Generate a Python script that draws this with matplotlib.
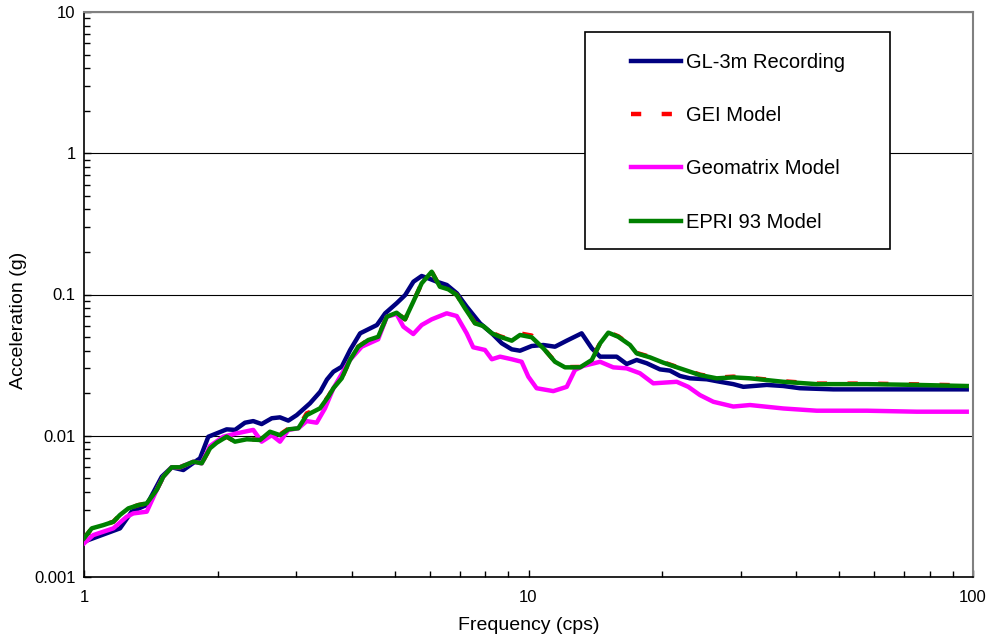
import matplotlib.pyplot as plt
from matplotlib import ticker
from matplotlib.patches import Rectangle

# ======= data =======
FREQ_REC = [1.0, 1.205, 1.28, 1.384, 1.496, 1.575, 1.673, 1.777, 1.824, 1.904,
            2.094, 2.186, 2.302, 2.403, 2.51, 2.645, 2.76, 2.882, 3.01, 3.224,
            3.40, 3.52, 3.64, 3.80, 3.97, 4.18, 4.56, 4.76, 5.05, 5.28,
            5.51, 5.75, 5.95, 6.22, 6.55, 6.90, 7.26, 7.78, 8.27, 8.71,
            9.17, 9.57, 10.17, 10.8, 11.47, 12.19, 13.17, 13.88, 14.49, 15.79,
            16.63, 17.51, 18.45, 19.76, 20.81, 21.92, 23.09, 25.18, 26.97, 28.89,
            30.43, 34.36, 37.43, 40.8, 48.5, 68.5, 96.8]
ACC_REC = [0.00178, 0.00221, 0.0029, 0.00324, 0.00513, 0.00598, 0.00572, 0.00655, 0.00692, 0.00984,
           0.0111, 0.0110, 0.01237, 0.0127, 0.0121, 0.0133, 0.0135, 0.0128, 0.0140, 0.01697,
           0.0205, 0.0250, 0.0284, 0.0308, 0.0405, 0.0531, 0.0608, 0.0736, 0.0867, 0.0992,
           0.1232, 0.1352, 0.1302, 0.1232, 0.1168, 0.102, 0.082, 0.0625, 0.0531, 0.0451,
           0.0409, 0.0400, 0.0432, 0.0439, 0.0427, 0.0471, 0.0531, 0.0416, 0.0363, 0.0363,
           0.0322, 0.0344, 0.0326, 0.0295, 0.0289, 0.0265, 0.0255, 0.0251, 0.0241, 0.0232,
           0.0222, 0.0229, 0.0225, 0.0217, 0.0213, 0.0213, 0.0213]

FREQ_EPRI = [1.0, 1.041, 1.105, 1.164, 1.205, 1.258, 1.325, 1.384, 1.457, 1.508,
             1.575, 1.644, 1.762, 1.840, 1.921, 1.989, 2.094, 2.186, 2.323, 2.489,
             2.62, 2.76, 2.882, 3.035, 3.17, 3.396, 3.545, 3.64, 3.80, 3.966,
             4.14, 4.36, 4.59, 4.80, 5.05, 5.275, 5.506, 5.75, 6.056, 6.32,
             6.60, 6.895, 7.195, 7.58, 7.91, 8.27, 8.63, 9.17, 9.57, 10.17,
             10.8, 11.47, 12.08, 13.06, 13.88, 14.49, 15.12, 15.92, 16.92, 17.51,
             18.76, 20.11, 21.92, 24.31, 26.51, 28.89, 31.5, 37.43, 44.5, 57.7,
             74.7, 96.8]
ACC_EPRI = [0.00188, 0.00221, 0.00233, 0.00246, 0.00275, 0.00306, 0.00323, 0.00332, 0.00413, 0.00513,
            0.00598, 0.00598, 0.00655, 0.00638, 0.00815, 0.00893, 0.00985, 0.00908, 0.00944, 0.00933,
            0.01068, 0.0101, 0.0111, 0.0113, 0.0140, 0.01564, 0.0189, 0.0217, 0.0255, 0.0344,
            0.0427, 0.0476, 0.0502, 0.0696, 0.0743, 0.0667, 0.0889, 0.120, 0.145, 0.1135,
            0.1088, 0.0992, 0.0799, 0.0625, 0.0598, 0.0531, 0.0502, 0.0471, 0.0517, 0.0498,
            0.0416, 0.0334, 0.0305, 0.0305, 0.0344, 0.0451, 0.0537, 0.0502, 0.0439, 0.0383,
            0.0359, 0.0329, 0.0300, 0.0269, 0.0255, 0.0259, 0.0255, 0.0241, 0.0232, 0.0232,
            0.0229, 0.0225]

FREQ_GEI = FREQ_EPRI
ACC_GEI = [0.00188, 0.00221, 0.00233, 0.00246, 0.00275, 0.00306, 0.00323, 0.00332, 0.00413, 0.00513,
           0.00598, 0.00598, 0.00655, 0.00638, 0.00815, 0.00893, 0.00985, 0.00908, 0.00944, 0.00938,
           0.01072, 0.0102, 0.0112, 0.0114, 0.0144, 0.0157, 0.0190, 0.0218, 0.0256, 0.0344,
           0.0427, 0.0477, 0.0504, 0.0696, 0.0743, 0.0667, 0.0889, 0.120, 0.145, 0.1135,
           0.1089, 0.0994, 0.0802, 0.0628, 0.0602, 0.0536, 0.0506, 0.0476, 0.0530, 0.0512,
           0.0418, 0.0335, 0.0306, 0.0307, 0.0346, 0.0453, 0.0541, 0.0506, 0.0442, 0.0386,
           0.0362, 0.0331, 0.0302, 0.0271, 0.0258, 0.0262, 0.0257, 0.0243, 0.0234, 0.0234,
           0.0231, 0.0227]

FREQ_GEOM = [1.0, 1.049, 1.164, 1.247, 1.291, 1.384, 1.457, 1.508, 1.575, 1.644,
             1.762, 1.840, 1.921, 2.058, 2.206, 2.403, 2.51, 2.645, 2.76, 2.882,
             3.035, 3.17, 3.338, 3.485, 3.64, 3.966, 4.215, 4.59, 4.80, 5.05,
             5.23, 5.506, 5.75, 6.056, 6.546, 6.895, 7.26, 7.51, 7.98, 8.27,
             8.63, 9.17, 9.65, 9.99, 10.43, 11.37, 12.19, 12.72, 13.28, 14.49,
             15.51, 16.63, 17.81, 19.09, 21.55, 22.88, 24.31, 26.05, 28.89, 31.5,
             37.43, 44.5, 57.7, 74.7, 96.8]
ACC_GEOM = [0.00173, 0.00198, 0.00221, 0.00267, 0.00282, 0.0029, 0.00413, 0.00513, 0.00598, 0.00598,
            0.00655, 0.00638, 0.00846, 0.00985, 0.0104, 0.0110, 0.00908, 0.0101, 0.00908, 0.0110,
            0.0113, 0.0127, 0.01237, 0.01564, 0.0217, 0.0344, 0.0427, 0.0482, 0.0696, 0.0728,
            0.0592, 0.0525, 0.0608, 0.0667, 0.0736, 0.0704, 0.0531, 0.0423, 0.0405, 0.0348,
            0.0363, 0.0348, 0.0334, 0.0262, 0.0217, 0.0207, 0.0222, 0.0292, 0.0312, 0.0334,
            0.0305, 0.0300, 0.0277, 0.0235, 0.0241, 0.0222, 0.0194, 0.0174, 0.0161, 0.0165,
            0.0156, 0.01504, 0.01504, 0.0148, 0.0148]

LABELS = ["GL-3m Recording", "GEI Model", "Geomatrix Model", "EPRI 93 Model"]
COLORS = ["#000080", "#FF0000", "#FF00FF", "#008000"]

# ======= style =======
plt.rcParams["font.family"] = ["Liberation Sans", "DejaVu Sans"]
LW = 3.2

fig = plt.figure(figsize=(9.89, 6.42), dpi=100)
ax = fig.add_axes([84 / 989, 65 / 642, 889 / 989, 565 / 642])

l_rec, = ax.plot(FREQ_REC, ACC_REC, color=COLORS[0], lw=LW, zorder=3)
l_gei, = ax.plot(FREQ_GEI, ACC_GEI, color=COLORS[1], lw=LW, zorder=4,
                 dashes=(2.3, 4.6))
l_geo, = ax.plot(FREQ_GEOM, ACC_GEOM, color=COLORS[2], lw=LW, zorder=5)
l_epri, = ax.plot(FREQ_EPRI, ACC_EPRI, color=COLORS[3], lw=LW, zorder=6)

ax.set_xscale("log")
ax.set_yscale("log")
ax.set_xlim(1, 100)
ax.set_ylim(0.001, 10)

fmt = ticker.FuncFormatter(lambda v, _: f"{v:g}")
ax.xaxis.set_major_formatter(fmt)
ax.yaxis.set_major_formatter(fmt)
ax.xaxis.set_minor_formatter(ticker.NullFormatter())
ax.yaxis.set_minor_formatter(ticker.NullFormatter())
ax.xaxis.set_minor_locator(ticker.LogLocator(subs=range(2, 10)))
ax.yaxis.set_minor_locator(ticker.LogLocator(subs=range(2, 10)))

ax.tick_params(which="major", direction="in", length=5, width=1, labelsize=12, pad=9)
ax.tick_params(which="minor", direction="in", length=4, width=1)
ax.tick_params(axis="y", which="major", pad=6)

ax.grid(True, axis="y", which="major", color="black", lw=0.8)
for s in ["left", "bottom"]:
    ax.spines[s].set_color("black")
    ax.spines[s].set_linewidth(1.2)
for s in ["top", "right"]:
    ax.spines[s].set_color("#808080")
    ax.spines[s].set_linewidth(1.5)

ax.set_xlabel("Frequency (cps)", fontsize=14)
ax.xaxis.set_label_coords(0.5, -0.07)
ax.set_ylabel("Acceleration (g)", fontsize=14, va="center")
ax.yaxis.set_label_coords(-0.074, 0.455)

# ===== legend with a hand-placed frame =====
box = Rectangle((501 / 889, 328 / 565), 305 / 889, 217 / 565,
                transform=ax.transAxes, facecolor="white", edgecolor="black",
                lw=1.2, zorder=7)
ax.add_patch(box)
leg = ax.legend([l_rec, l_gei, l_geo, l_epri], LABELS,
                loc="upper left", bbox_to_anchor=(547 / 889, 524 / 565),
                borderaxespad=0, borderpad=0, frameon=False, fontsize=14.5,
                handlelength=2.5, handletextpad=0.25, labelspacing=1.7)
leg.set_zorder(8)

fig.savefig("out.png", dpi=100)
plt.close(fig)
